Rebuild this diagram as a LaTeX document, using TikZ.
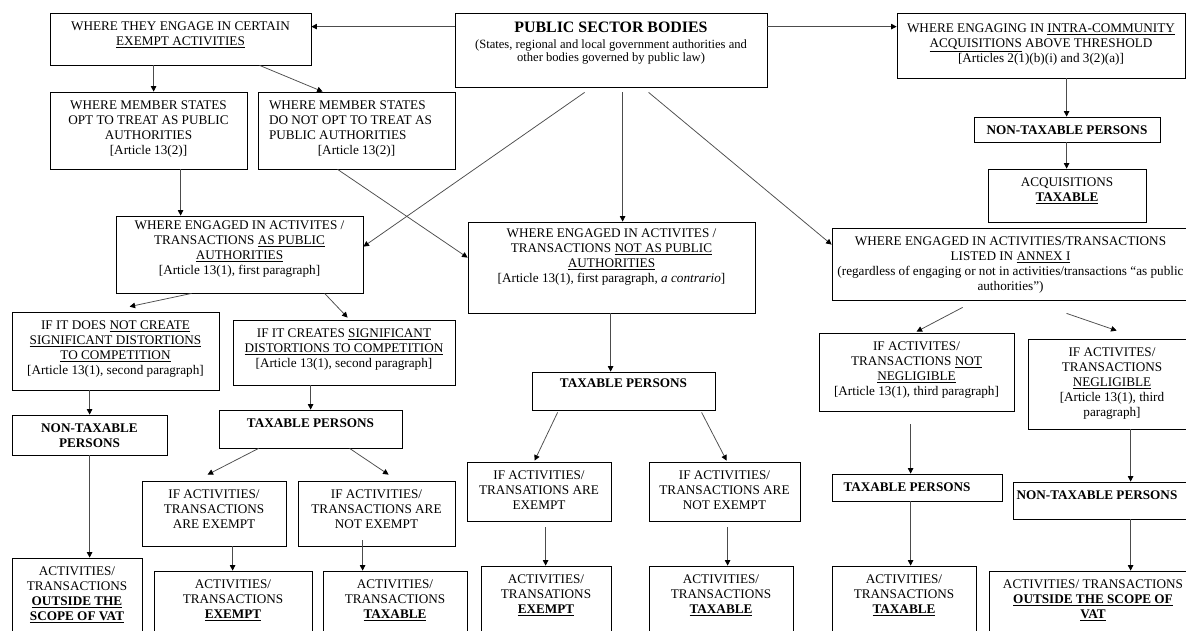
\documentclass[tikz,border=0pt]{standalone}
\usepackage{fontspec}
\setmainfont{Liberation Serif}
\usetikzlibrary{arrows.meta}
\tikzset{
  box/.style={draw=black, line width=0.8pt, inner sep=0pt, font=\fontsize{13.2}{15}\selectfont},
  conn/.style={draw=black!70, line width=0.75pt, -{Triangle[length=5.5pt,width=5.5pt,color=black,fill=black]}},
}
\newcommand\bx[7][9.2pt]{%
  \node[box] (#2) at ({(#3+#5)/2},{-(#4+#6)/2})
  {\parbox[c][\dimexpr#6pt-#4pt\relax][t]{\dimexpr#5pt-#3pt\relax}{\centering\vspace*{#1}#7\par}};}
\begin{document}
\begin{tikzpicture}[x=1pt,y=1pt]
\fill[white] (0,0) rectangle (1186,-630);
\useasboundingbox (0,0) rectangle (1186,-630);

% top row
\bx{ex}{50}{13}{311}{65}{WHERE THEY ENGAGE IN CERTAIN\\\underline{EXEMPT ACTIVITIES}}
\bx[9.2pt]{psb}{455}{13}{767}{87}{{\fontsize{15.9}{18}\selectfont\bfseries PUBLIC SECTOR BODIES\par}\vspace{3pt}{\fontsize{12.6}{12.8}\selectfont (States, regional and local government authorities and\\other bodies governed by public law)\par}}
\bx[10.5pt]{ica}{897}{13}{1185}{78}{WHERE ENGAGING IN \underline{INTRA-COMMUNITY}\\\underline{ACQUISITIONS} ABOVE THRESHOLD\\{}[Articles 2(1)(b)(i) and 3(2)(a)]}

% second row
\bx{msa}{50}{92}{247}{169}{WHERE MEMBER STATES\\OPT TO TREAT AS PUBLIC\\AUTHORITIES\\{}[Article 13(2)]}
\bx{msb}{258}{92}{455}{169}{{\raggedright\leftskip=11pt WHERE MEMBER STATES\\DO NOT OPT TO TREAT AS\\PUBLIC AUTHORITIES\par}[Article 13(2)]}
\bx{ntpa}{974}{117}{1160}{142}{\textbf{NON-TAXABLE PERSONS}}
\bx{acq}{988}{169}{1146}{222}{ACQUISITIONS\\\textbf{\underline{TAXABLE}}}

% third row
\bx[5.2pt]{aspa}{116}{216}{363}{293}{WHERE ENGAGED IN ACTIVITES /\\TRANSACTIONS \underline{AS PUBLIC}\\\underline{AUTHORITIES}\\{}[Article 13(1), first paragraph]}
\bx[7.2pt]{notpa}{468}{222}{755}{313}{WHERE ENGAGED IN ACTIVITES /\\TRANSACTIONS \underline{NOT AS PUBLIC}\\\underline{AUTHORITIES}\\{}[Article 13(1), first paragraph, \textit{a contrario}]}
\bx{annex}{832}{228}{1189}{300}{WHERE ENGAGED IN ACTIVITIES/TRANSACTIONS\\LISTED IN \underline{ANNEX I}\\(regardless of engaging or not in activities/transactions “as public\\authorities”)}

% left branch
\bx{nc}{12}{312}{219}{390}{IF IT DOES \underline{NOT CREATE}\\\underline{SIGNIFICANT DISTORTIONS}\\\underline{TO COMPETITION}\\{}[Article 13(1), second paragraph]}
\bx{cr}{233}{320}{455}{385}{IF IT CREATES \underline{SIGNIFICANT}\\\underline{DISTORTIONS TO COMPETITION}\\{}[Article 13(1), second paragraph]}
\bx{tpa}{219}{410}{402}{448}{\textbf{TAXABLE PERSONS}}
\bx{ntpb}{12}{415}{167}{455}{\textbf{NON-TAXABLE}\\\textbf{PERSONS}}
\bx{iea}{142}{481}{286}{546}{IF ACTIVITIES/\\TRANSACTIONS\\ARE EXEMPT}
\bx{inea}{298}{481}{455}{546}{IF ACTIVITIES/\\TRANSACTIONS ARE\\NOT EXEMPT}
\bx{outa}{12}{558}{142}{640}{ACTIVITIES/\\TRANSACTIONS\\\textbf{\underline{OUTSIDE THE}}\\\textbf{\underline{SCOPE OF VAT}}}
\bx{exa}{154}{571}{312}{640}{ACTIVITIES/\\TRANSACTIONS\\\textbf{\underline{EXEMPT}}}
\bx{txa}{323}{571}{467}{640}{ACTIVITIES/\\TRANSACTIONS\\\textbf{\underline{TAXABLE}}}

% middle branch
\bx[7.2pt]{tpb}{532}{372}{715}{410}{\textbf{TAXABLE PERSONS}}
\bx{ieb}{467}{462}{611}{521}{IF ACTIVITIES/\\TRANSATIONS ARE\\EXEMPT}
\bx{ineb}{649}{462}{800}{521}{IF ACTIVITIES/\\TRANSACTIONS ARE\\NOT EXEMPT}
\bx{exb}{481}{566}{611}{640}{ACTIVITIES/\\TRANSATIONS\\\textbf{\underline{EXEMPT}}}
\bx{txb}{649}{566}{793}{640}{ACTIVITIES/\\TRANSACTIONS\\\textbf{\underline{TAXABLE}}}

% right branch
\bx{nn}{819}{333}{1014}{411}{IF ACTIVITES/\\TRANSACTIONS \underline{NOT}\\\underline{NEGLIGIBLE}\\{}[Article 13(1), third paragraph]}
\bx{ng}{1028}{339}{1196}{429}{IF ACTIVITES/\\TRANSACTIONS\\\underline{NEGLIGIBLE}\\{}[Article 13(1), third\\paragraph]}
\bx{tpc}{832}{474}{1002}{501}{\textbf{TAXABLE PERSONS}\hspace*{20pt}}
\bx{ntpc}{1013}{482}{1193}{519}{\textbf{NON-TAXABLE PERSONS}\hspace*{12pt}}
\bx{txc}{832}{566}{976}{640}{ACTIVITIES/\\TRANSACTIONS\\\textbf{\underline{TAXABLE}}}
\bx{outc}{989}{571}{1197}{640}{ACTIVITIES/ TRANSACTIONS\\\textbf{\underline{OUTSIDE THE SCOPE OF}}\\\textbf{\underline{VAT}}}

% connectors
\draw[conn] ([yshift=-14pt]psb.north west) -- ([yshift=-14pt]ex.north east);
\draw[conn] ([yshift=-14pt]psb.north east) -- ([yshift=-14pt]ica.north west);
\draw[conn] ([xshift=104pt]ex.south west) -- ([xshift=104pt]msa.north west);
\draw[conn] ([xshift=210pt]ex.south west) -- ([xshift=65pt]msb.north west);
\draw[conn] ([xshift=131pt]msa.south west) -- ([xshift=65pt]aspa.north west);
\draw[conn] ([xshift=80pt]msb.south west) -- ([yshift=-36pt]notpa.north west);
\draw[conn] ([xshift=130pt,yshift=-5pt]psb.south west) -- ([yshift=-31pt]aspa.north east);
\draw[conn] ([xshift=168pt,yshift=-5pt]psb.south west) -- ([xshift=155pt]notpa.north west);
\draw[conn] ([xshift=194pt,yshift=-5pt]psb.south west) -- ([yshift=-17pt]annex.north west);
\draw[conn] ([xshift=170pt]ica.south west) -- ([xshift=93pt]ntpa.north west);
\draw[conn] ([xshift=93pt]ntpa.south west) -- ([xshift=79pt]acq.north west);
\draw[conn] ([xshift=76pt]aspa.south west) -- ([xshift=118pt,yshift=5pt]nc.north west);
\draw[conn] ([xshift=209pt]aspa.south west) -- ([xshift=115pt,yshift=2pt]cr.north west);
\draw[conn] ([xshift=78pt]cr.south west) -- ([xshift=92pt]tpa.north west);
\draw[conn] ([xshift=78pt]nc.south west) -- ([xshift=78pt]ntpb.north west);
\draw[conn] ([xshift=78pt]ntpb.south west) -- ([xshift=78pt]outa.north west);
\draw[conn] ([xshift=40pt]tpa.south west) -- ([xshift=66pt,yshift=6pt]iea.north west);
\draw[conn] ([xshift=131pt]tpa.south west) -- ([xshift=91pt,yshift=6pt]inea.north west);
\draw[conn] ([xshift=91pt]iea.south west) -- ([xshift=79pt]exa.north west);
\draw[conn] ([xshift=65pt,yshift=6pt]inea.south west) -- ([xshift=40pt]txa.north west);
\draw[conn] ([xshift=143pt]notpa.south west) -- ([xshift=79pt]tpb.north west);
\draw[conn] ([xshift=26pt,yshift=-2pt]tpb.south west) -- ([xshift=68pt,yshift=1pt]ieb.north west);
\draw[conn] ([xshift=170pt,yshift=-2pt]tpb.south west) -- ([xshift=78pt,yshift=1pt]ineb.north west);
\draw[conn] ([xshift=79pt,yshift=-6pt]ieb.south west) -- ([xshift=65pt]exb.north west);
\draw[conn] ([xshift=79pt,yshift=-6pt]ineb.south west) -- ([xshift=79pt]txb.north west);
\draw[conn] ([xshift=131pt,yshift=-7pt]annex.south west) -- ([xshift=98pt,yshift=1pt]nn.north west);
\draw[conn] ([xshift=235pt,yshift=-13pt]annex.south west) -- ([xshift=89pt,yshift=8pt]ng.north west);
\draw[conn] ([xshift=92pt,yshift=-13pt]nn.south west) -- ([xshift=79pt]tpc.north west);
\draw[conn] ([xshift=103pt]ng.south west) -- ([xshift=118pt]ntpc.north west);
\draw[conn] ([xshift=79pt]tpc.south west) -- ([xshift=79pt]txc.north west);
\draw[conn] ([xshift=118pt]ntpc.south west) -- ([xshift=142pt]outc.north west);
\end{tikzpicture}
\end{document}
